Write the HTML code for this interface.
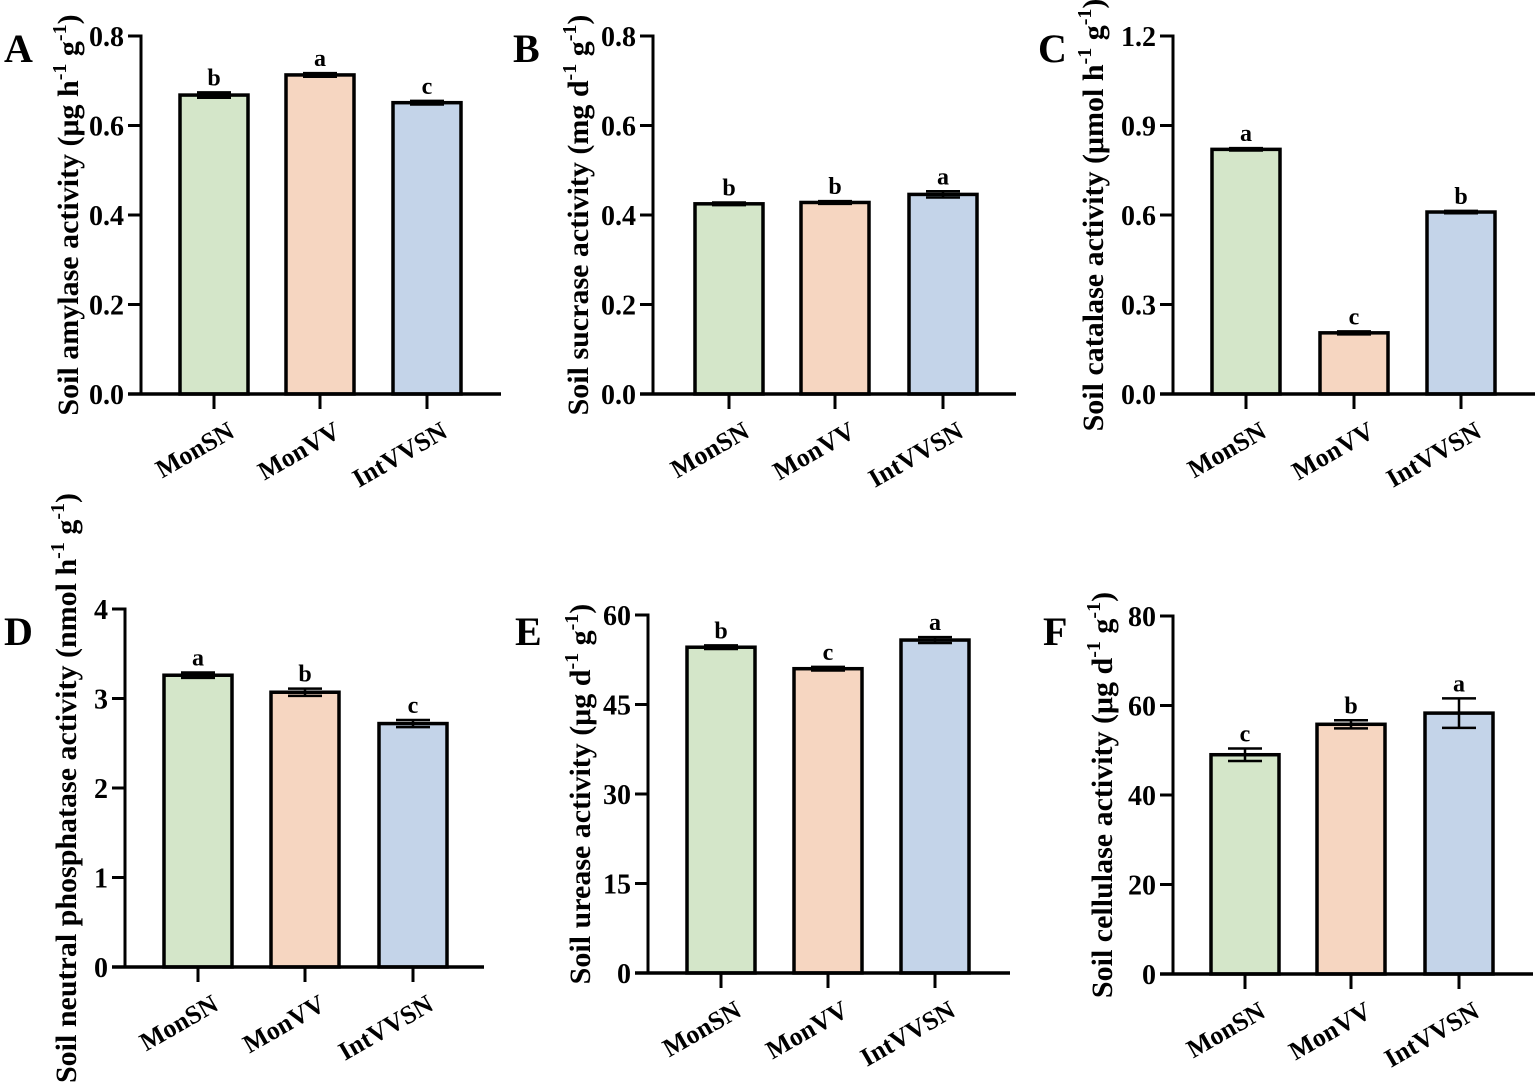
<!DOCTYPE html>
<html><head><meta charset="utf-8"><style>
html,body{margin:0;padding:0;background:#fff;}
svg{display:block;font-family:"Liberation Serif",serif;font-weight:bold;}
</style></head><body>
<svg id="fig" width="1535" height="1084" viewBox="0 0 1535 1084" xmlns="http://www.w3.org/2000/svg"></svg>
<script>
const categories = ["MonSN","MonVV","IntVVSN"];
const valuesA = [0.668, 0.713, 0.651];
const errorsA = [0.006, 0.004, 0.004];
const lettersA = ["b","a","c"];
const ticksA = [0,0.2,0.4,0.6,0.8];
const tickLabelsA = ["0.0","0.2","0.4","0.6","0.8"];
const valuesB = [0.425, 0.428, 0.446];
const errorsB = [0.003, 0.003, 0.007];
const lettersB = ["b","b","a"];
const ticksB = [0,0.2,0.4,0.6,0.8];
const tickLabelsB = ["0.0","0.2","0.4","0.6","0.8"];
const valuesC = [0.82, 0.205, 0.61];
const errorsC = [0.004, 0.005, 0.004];
const lettersC = ["a","c","b"];
const ticksC = [0,0.3,0.6,0.9,1.2];
const tickLabelsC = ["0.0","0.3","0.6","0.9","1.2"];
const valuesD = [3.26, 3.07, 2.72];
const errorsD = [0.03, 0.04, 0.04];
const lettersD = ["a","b","c"];
const ticksD = [0,1,2,3,4];
const tickLabelsD = ["0","1","2","3","4"];
const valuesE = [54.6, 51.0, 55.8];
const errorsE = [0.3, 0.3, 0.5];
const lettersE = ["b","c","a"];
const ticksE = [0,15,30,45,60];
const tickLabelsE = ["0","15","30","45","60"];
const valuesF = [49.0, 55.8, 58.3];
const errorsF = [1.4, 0.9, 3.3];
const lettersF = ["c","b","a"];
const ticksF = [0,20,40,60,80];
const tickLabelsF = ["0","20","40","60","80"];

const colors = ["#d4e6c9","#f6d6c1","#c4d4e9"];
const NS = "http://www.w3.org/2000/svg";
const svg = document.getElementById("fig");
function mk(tag, attrs, parent, text){
  const e = document.createElementNS(NS, tag);
  for (const k in attrs) e.setAttribute(k, attrs[k]);
  if (text !== undefined) e.textContent = text;
  parent.appendChild(e); return e;
}
const panels = [
  {id:"a",letter:"A",lx:4,ly:62,ax:141,x1:501,y0:394,yt:36,max:0.8,bars:[180,286,393],vals:valuesA,errs:errorsA,lets:lettersA,ticks:ticksA,tl:tickLabelsA,yl:"Soil amylase activity (μg h",u2:" g",ylx:68},
  {id:"b",letter:"B",lx:513,ly:62,ax:653,x1:1016,y0:394,yt:36,max:0.8,bars:[695,801,909],vals:valuesB,errs:errorsB,lets:lettersB,ticks:ticksB,tl:tickLabelsB,yl:"Soil sucrase activity (mg d",u2:" g",ylx:578},
  {id:"c",letter:"C",lx:1038,ly:62,ax:1173,x1:1535,y0:394,yt:36,max:1.2,bars:[1212,1320,1427],vals:valuesC,errs:errorsC,lets:lettersC,ticks:ticksC,tl:tickLabelsC,yl:"Soil catalase activity (μmol h",u2:" g",ylx:1093},
  {id:"d",letter:"D",lx:4,ly:645,ax:125,x1:484,y0:967,yt:609,max:4,bars:[164,271,379],vals:valuesD,errs:errorsD,lets:lettersD,ticks:ticksD,tl:tickLabelsD,yl:"Soil neutral phosphatase activity (nmol h",u2:" g",ylx:66},
  {id:"e",letter:"E",lx:515,ly:645,ax:648,x1:1010,y0:973,yt:615,max:60,bars:[687,794,901],vals:valuesE,errs:errorsE,lets:lettersE,ticks:ticksE,tl:tickLabelsE,yl:"Soil urease activity (μg d",u2:" g",ylx:580},
  {id:"f",letter:"F",lx:1043,ly:645,ax:1173,x1:1533,y0:974,yt:616,max:80,bars:[1211,1317,1425],vals:valuesF,errs:errorsF,lets:lettersF,ticks:ticksF,tl:tickLabelsF,yl:"Soil cellulase activity (μg d",u2:" g",ylx:1102}
];
const BW = 68;
panels.forEach(p => {
  const g = mk("g", {}, svg);
  
  
  const yScale = v => p.y0 - v / p.max * (p.y0 - p.yt);
  const lt = mk("text", {x:p.lx, y:p.ly, "font-size":40}, g, p.letter);
  
  
  p.vals.forEach((v, i) => {
    const x = p.bars[i], top = yScale(v), cx = x + BW/2;
    const r = mk("rect", {x:x, y:top, width:BW, height:p.y0 - top, fill:colors[i], stroke:"#000", "stroke-width":3.5}, g);
    
    
    const eh = yScale(v + p.errs[i]), el = yScale(v - p.errs[i]);
    const eg = mk("g", {stroke:"#000","stroke-width":2.5}, g);
    
    
    mk("line", {x1:cx, x2:cx, y1:eh, y2:el}, eg);
    mk("line", {x1:cx-17, x2:cx+17, y1:eh, y2:eh}, eg);
    mk("line", {x1:cx-17, x2:cx+17, y1:el, y2:el}, eg);
    const sl = mk("text", {x:cx, y:eh - 7, "font-size":24, "text-anchor":"middle"}, g, p.lets[i]);
    
    
    mk("line", {x1:cx, x2:cx, y1:p.y0, y2:p.y0 + 15, stroke:"#000","stroke-width":3}, g);
    const tx = cx + 22, ty = p.y0 + 42;
    const cl = mk("text", {x:tx, y:ty, "font-size":26, "text-anchor":"end", transform:`rotate(-30 ${tx} ${ty})`}, g, categories[i]);
    
    
  });
  const ya = mk("line", {x1:p.ax, x2:p.ax, y1:p.yt - 1.5, y2:p.y0 + 1.5, stroke:"#000","stroke-width":3}, g);
  
  
  const xa = mk("line", {x1:p.ax - 13, x2:p.x1, y1:p.y0, y2:p.y0, stroke:"#000","stroke-width":3.5}, g);
  
  
  p.ticks.forEach((t, i) => {
    const y = yScale(t);
    mk("line", {x1:p.ax - 13, x2:p.ax, y1:y, y2:y, stroke:"#000","stroke-width":3}, g);
    const tl = mk("text", {x:p.ax - 17, y:y + 10, "font-size":28, "text-anchor":"end"}, g, p.tl[i]);
    
    
  });
  const cy = (p.y0 + p.yt) / 2;
  const yl = mk("text", {x:p.ylx, y:cy, "font-size":30, "text-anchor":"middle", transform:`rotate(-90 ${p.ylx} ${cy})`, dy:"10"}, g);
  
  
  mk("tspan", {}, yl, p.yl);
  mk("tspan", {"font-size":20, dy:"-12"}, yl, "-1");
  mk("tspan", {dy:"12"}, yl, p.u2);
  mk("tspan", {"font-size":20, dy:"-12"}, yl, "-1");
  mk("tspan", {dy:"12"}, yl, ")");
});
</script>
</body></html>
